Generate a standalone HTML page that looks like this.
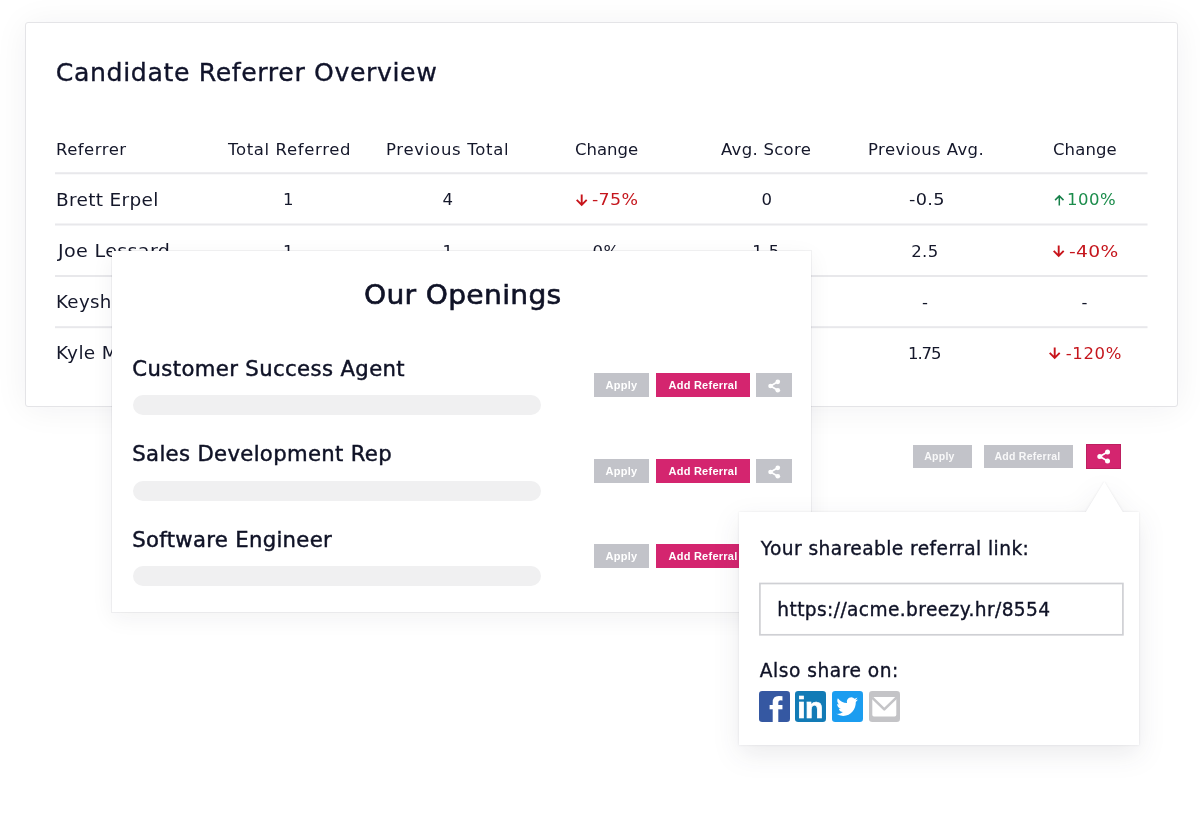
<!DOCTYPE html>
<html lang="en">
<head>
<meta charset="utf-8">
<title>Candidate Referrer Overview</title>
<style>
*{box-sizing:border-box;margin:0;padding:0}
html,body{width:1200px;height:814px;overflow:hidden;background:#fff}
body{font-family:"DejaVu Sans","Liberation Sans",sans-serif;color:#171b2c;position:relative}
.x{position:absolute;white-space:nowrap;line-height:normal}
.card{position:absolute;left:25px;top:22px;width:1153px;height:385px;background:#fff;border:1px solid #e4e4e7;border-radius:3px;box-shadow:0 2px 34px rgba(30,30,50,.06)}
.modal{position:absolute;left:112px;top:251px;width:699px;height:361px;background:#fff;box-shadow:0 0 0 1px rgba(30,30,50,.055),0 6px 22px rgba(30,30,50,.06)}
.bar{position:absolute;left:133px;width:408px;height:20px;border-radius:10px;background:#f0f0f1}
.btn{position:absolute;font-family:"Liberation Sans",sans-serif;font-size:11px;font-weight:bold;text-align:center;color:#fff;white-space:nowrap;letter-spacing:.25px}
.gray{background:#c2c3c9}
.pink{background:#d4256f}
.pop{position:absolute;left:0;top:0;filter:drop-shadow(0 0 1px rgba(30,30,50,.10)) drop-shadow(0 9px 13px rgba(30,30,50,.09))}
svg{position:absolute;overflow:visible}
</style>
</head>
<body>
<div class="card"></div>
<svg style="left:0;top:0" width="1200" height="400"><g fill="#e8e8eb"><rect x="55" y="172.25" width="1092.5" height="2"/><rect x="55" y="223.5" width="1092.5" height="2"/><rect x="55" y="275" width="1092.5" height="2"/><rect x="55" y="326.2" width="1092.5" height="2"/></g></svg>
<div class="x" style="left:55.80px;top:57.61px;font-size:25.2px;letter-spacing:0.61px;color:#10132a;-webkit-text-stroke:.35px #10132a;">Candidate Referrer Overview</div>
<div class="x" style="left:56.00px;top:140.09px;font-size:16.5px;letter-spacing:0.48px;color:#14172a;">Referrer</div>
<div class="x" style="left:228.00px;top:140.09px;font-size:16.5px;letter-spacing:0.64px;color:#14172a;">Total Referred</div>
<div class="x" style="left:386.00px;top:140.09px;font-size:16.5px;letter-spacing:0.70px;color:#14172a;">Previous Total</div>
<div class="x" style="left:575.00px;top:140.09px;font-size:16.5px;letter-spacing:-0.00px;color:#14172a;">Change</div>
<div class="x" style="left:721.00px;top:140.09px;font-size:16.5px;letter-spacing:0.29px;color:#14172a;">Avg. Score</div>
<div class="x" style="left:868.00px;top:140.09px;font-size:16.5px;letter-spacing:0.41px;color:#14172a;">Previous Avg.</div>
<div class="x" style="left:1053.00px;top:140.09px;font-size:16.5px;letter-spacing:0.10px;color:#14172a;">Change</div>
<div class="x" style="left:55.92px;top:190.34px;font-size:17.2px;letter-spacing:0.30px;color:#14172a;transform:scaleX(1.0759);transform-origin:0 50%;">Brett Erpel</div>
<div class="x" style="left:283.00px;top:190.29px;font-size:16.5px;letter-spacing:0.00px;color:#14172a;">1</div>
<div class="x" style="left:442.50px;top:190.29px;font-size:16.5px;letter-spacing:0.00px;color:#14172a;">4</div>
<div class="x" style="left:592.40px;top:190.29px;font-size:16.5px;letter-spacing:0.30px;color:#c5161d;transform:scaleX(1.0549);transform-origin:0 50%;">-75%</div>
<div class="x" style="left:761.50px;top:190.29px;font-size:16.5px;letter-spacing:0.00px;color:#14172a;">0</div>
<div class="x" style="left:908.75px;top:190.29px;font-size:16.5px;letter-spacing:0.30px;color:#14172a;transform:scaleX(1.0737);transform-origin:0 50%;">-0.5</div>
<div class="x" style="left:1067.10px;top:190.29px;font-size:16.5px;letter-spacing:0.47px;color:#1b8c4b;">100%</div>
<div class="x" style="left:58.11px;top:241.44px;font-size:17.2px;letter-spacing:0.30px;color:#14172a;transform:scaleX(1.1125);transform-origin:0 50%;">Joe Lessard</div>
<div class="x" style="left:283.00px;top:242.09px;font-size:16.5px;letter-spacing:0.00px;color:#14172a;">1</div>
<div class="x" style="left:442.50px;top:242.09px;font-size:16.5px;letter-spacing:0.00px;color:#14172a;">1</div>
<div class="x" style="left:592.55px;top:242.09px;font-size:16.5px;letter-spacing:0.40px;color:#14172a;">0%</div>
<div class="x" style="left:752.23px;top:242.09px;font-size:16.5px;letter-spacing:0.40px;color:#14172a;">1.5</div>
<div class="x" style="left:911.30px;top:242.09px;font-size:16.5px;letter-spacing:0.33px;color:#14172a;">2.5</div>
<div class="x" style="left:1068.70px;top:242.09px;font-size:16.5px;letter-spacing:0.30px;color:#c5161d;transform:scaleX(1.1342);transform-origin:0 50%;">-40%</div>
<div class="x" style="left:55.94px;top:292.44px;font-size:17.2px;letter-spacing:0.30px;color:#14172a;transform:scaleX(1.0602);transform-origin:0 50%;">Keysha Wells</div>
<div class="x" style="left:922.00px;top:293.09px;font-size:16.5px;letter-spacing:0.00px;color:#14172a;">-</div>
<div class="x" style="left:1081.50px;top:293.09px;font-size:16.5px;letter-spacing:0.00px;color:#14172a;">-</div>
<div class="x" style="left:55.92px;top:343.44px;font-size:17.2px;letter-spacing:0.30px;color:#14172a;transform:scaleX(1.0766);transform-origin:0 50%;">Kyle Morris</div>
<div class="x" style="left:908.00px;top:344.09px;font-size:16.5px;letter-spacing:-1.08px;color:#14172a;">1.75</div>
<div class="x" style="left:1065.70px;top:344.09px;font-size:16.5px;letter-spacing:0.64px;color:#c5161d;">-120%</div>
<!-- trend arrows -->
<svg style="left:575px;top:193px" width="14" height="14" viewBox="0 0 14 14"><path d="M6.7 1.4V11.6M1.7 6.9L6.7 11.9L11.7 6.9" fill="none" stroke="#c8141b" stroke-width="1.9"/></svg>
<svg style="left:1052px;top:244px" width="14" height="14" viewBox="0 0 14 14"><path d="M6.7 1.4V11.6M1.7 6.9L6.7 11.9L11.7 6.9" fill="none" stroke="#c8141b" stroke-width="1.9"/></svg>
<svg style="left:1048px;top:346px" width="14" height="14" viewBox="0 0 14 14"><path d="M6.7 1.4V11.6M1.7 6.9L6.7 11.9L11.7 6.9" fill="none" stroke="#c8141b" stroke-width="1.9"/></svg>
<svg style="left:1053px;top:194px" width="14" height="14" viewBox="0 0 14 14"><path d="M6.3 11.6V2.2M2.1 6.1L6.3 1.9L10.5 6.1" fill="none" stroke="#17804a" stroke-width="1.5"/></svg>

<!-- right-side standalone buttons -->
<div class="btn gray" style="left:913px;top:445px;width:59px;height:23px;line-height:23px;font-size:10.5px;padding-right:6px;color:rgba(255,255,255,.88)">Apply</div>
<div class="btn gray" style="left:984px;top:445px;width:89px;height:23px;line-height:23px;font-size:10.5px;padding-right:2px;color:rgba(255,255,255,.88)">Add Referral</div>
<div class="btn pink" style="left:1086px;top:444px;width:35px;height:25px;border:1px solid #bd1f60"></div>
<svg style="left:1096px;top:448px" width="16" height="17" viewBox="0 0 16 17"><path d="M3.8 8.5L11.5 4M3.8 8.5L11.5 13" stroke="#fff" stroke-width="1.7" fill="none"/><circle cx="3.8" cy="8.5" r="2.5" fill="#fff"/><circle cx="11.5" cy="4" r="2.5" fill="#fff"/><circle cx="11.5" cy="13" r="2.5" fill="#fff"/></svg>

<!-- openings modal -->
<div class="modal"></div>
<div class="x" style="left:363.97px;top:279.26px;font-size:27.2px;letter-spacing:0.30px;color:#0f1226;-webkit-text-stroke:.6px #0f1226;transform:scaleX(1.0350);transform-origin:0 50%;">Our Openings</div>
<div class="x" style="left:132.30px;top:356.03px;font-size:21.2px;letter-spacing:0.38px;color:#0f1226;-webkit-text-stroke:.45px #0f1226;">Customer Success Agent</div>
<div class="x" style="left:132.30px;top:440.73px;font-size:21.2px;letter-spacing:0.33px;color:#0f1226;-webkit-text-stroke:.45px #0f1226;">Sales Development Rep</div>
<div class="x" style="left:132.30px;top:527.03px;font-size:21.2px;letter-spacing:0.31px;color:#0f1226;-webkit-text-stroke:.45px #0f1226;">Software Engineer</div>
<div class="bar" style="top:395px"></div>
<div class="bar" style="top:481px"></div>
<div class="bar" style="top:566px"></div>

<div class="btn gray" style="left:594px;top:373px;width:55px;height:24px;line-height:24px">Apply</div>
<div class="btn pink" style="left:656px;top:373px;width:94px;height:24px;line-height:24px">Add Referral</div>
<div class="btn gray" style="left:756px;top:373px;width:36px;height:24px"></div>
<svg style="left:766.5px;top:377.5px" width="15" height="16" viewBox="0 0 16 17"><path d="M3.8 8.5L11.5 4M3.8 8.5L11.5 13" stroke="#fff" stroke-width="1.7" fill="none"/><circle cx="3.8" cy="8.5" r="2.5" fill="#fff"/><circle cx="11.5" cy="4" r="2.5" fill="#fff"/><circle cx="11.5" cy="13" r="2.5" fill="#fff"/></svg>

<div class="btn gray" style="left:594px;top:459px;width:55px;height:24px;line-height:24px">Apply</div>
<div class="btn pink" style="left:656px;top:459px;width:94px;height:24px;line-height:24px">Add Referral</div>
<div class="btn gray" style="left:756px;top:459px;width:36px;height:24px"></div>
<svg style="left:766.5px;top:463.5px" width="15" height="16" viewBox="0 0 16 17"><path d="M3.8 8.5L11.5 4M3.8 8.5L11.5 13" stroke="#fff" stroke-width="1.7" fill="none"/><circle cx="3.8" cy="8.5" r="2.5" fill="#fff"/><circle cx="11.5" cy="4" r="2.5" fill="#fff"/><circle cx="11.5" cy="13" r="2.5" fill="#fff"/></svg>

<div class="btn gray" style="left:594px;top:544px;width:55px;height:24px;line-height:24px">Apply</div>
<div class="btn pink" style="left:656px;top:544px;width:94px;height:24px;line-height:24px">Add Referral</div>
<div class="btn gray" style="left:756px;top:544px;width:36px;height:24px"></div>

<!-- popover -->
<svg class="pop" width="1200" height="814" viewBox="0 0 1200 814"><path d="M739 512H1085.8L1104.3 481.5L1122.8 512H1139V745H739Z" fill="#fff"/></svg>
<svg style="left:0;top:0" width="1200" height="814"><rect x="759.9" y="583.5" width="363" height="51.3" fill="#fff" stroke="#cfd0d4" stroke-width="1.7"/></svg>
<div class="x" style="left:760.75px;top:538.14px;font-size:18.6px;letter-spacing:0.43px;color:#0f1226;-webkit-text-stroke:.35px #0f1226;">Your shareable referral link:</div>
<div class="x" style="left:777.30px;top:599.14px;font-size:18.6px;letter-spacing:0.39px;color:#0f1226;-webkit-text-stroke:.35px #0f1226;">https://acme.breezy.hr/8554</div>
<div class="x" style="left:759.75px;top:660.24px;font-size:18.6px;letter-spacing:0.52px;color:#0f1226;-webkit-text-stroke:.35px #0f1226;">Also share on:</div>
<svg style="left:759px;top:691px" width="31" height="31" viewBox="0 0 31 31"><defs><clipPath id="cf"><rect x="0" y="0" width="31" height="31" rx="3.2"/></clipPath></defs><rect width="31" height="31" rx="3.2" fill="#3558a2"/><g clip-path="url(#cf)"><text transform="translate(9.9 39.2) scale(1 1.15)" x="0" y="0" font-family="Liberation Sans, sans-serif" font-weight="bold" font-size="40" fill="#fff">f</text></g></svg>
<svg style="left:795px;top:691px" width="31" height="31" viewBox="0 0 31 31"><rect width="31" height="31" rx="3.2" fill="#127bb6"/><text x="2.3" y="26.8" font-family="Liberation Sans, sans-serif" font-weight="bold" font-size="30" letter-spacing="-.6" fill="#fff" stroke="#fff" stroke-width=".7">in</text></svg>
<svg style="left:832px;top:691px" width="31" height="31" viewBox="0 0 31 31"><rect width="31" height="31" rx="3.2" fill="#1b9df0"/><path transform="translate(4.4 4.1) scale(.9 .96)" fill="#fff" d="M23.953 4.57a10 10 0 01-2.825.775 4.958 4.958 0 002.163-2.723c-.951.555-2.005.959-3.127 1.184a4.92 4.92 0 00-8.384 4.482C7.69 8.095 4.067 6.13 1.64 3.162a4.822 4.822 0 00-.666 2.475c0 1.71.87 3.213 2.188 4.096a4.904 4.904 0 01-2.228-.616v.06a4.923 4.923 0 003.946 4.827 4.996 4.996 0 01-2.212.085 4.936 4.936 0 004.604 3.417 9.867 9.867 0 01-6.102 2.105c-.39 0-.779-.023-1.17-.067a13.995 13.995 0 007.557 2.209c9.053 0 13.998-7.496 13.998-13.985 0-.21 0-.42-.015-.63A9.935 9.935 0 0024 4.59z"/></svg>
<svg style="left:869px;top:691px" width="31" height="31" viewBox="0 0 31 31"><rect width="31" height="31" rx="3.2" fill="#c4c4c7"/><rect x="3.3" y="6" width="24" height="19.4" rx="1.6" fill="#fff"/><path d="M3.2 6.6L15.3 18.4L27.4 6.6" fill="none" stroke="#c4c4c7" stroke-width="2.6" stroke-linejoin="round"/></svg>
</body>
</html>
